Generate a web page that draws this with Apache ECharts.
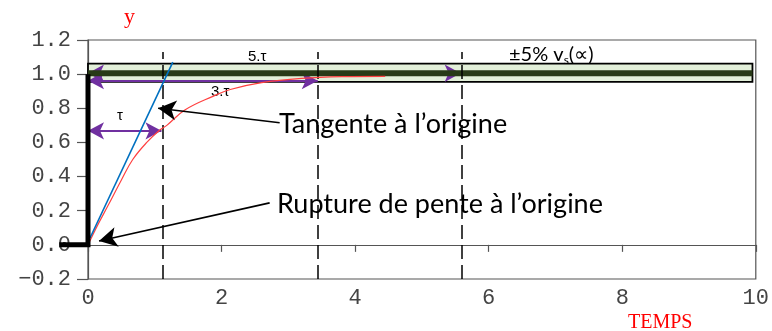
<!DOCTYPE html>
<html><head><meta charset="utf-8">
<script src="https://cdn.jsdelivr.net/npm/echarts@6/dist/echarts.min.js"></script>
<style>html,body{margin:0;padding:0;background:#fff}#c{width:772px;height:331px}</style>
</head><body><div id="c"></div>
<script>
// ---- data ----
const xTickValues = [0, 2, 4, 6, 8, 10];
const yTickValues = [-0.2, 0.0, 0.2, 0.4, 0.6, 0.8, 1.0, 1.2];
const yTickLabels = ['\u22120.2', '0.0', '0.2', '0.4', '0.6', '0.8', '1.0', '1.2'];

// step input (thick black)
const stepT = [-0.43, 0, 0];
const stepY = [0, 0, 1.0];

// response curve (red)
const respT = [0, 0.15, 0.3, 0.5, 0.67, 0.88, 1.08, 1.18, 1.45, 1.87, 2.13, 2.6, 3.2, 3.8, 4.45];
const respY = [0, 0.12, 0.23, 0.38, 0.50, 0.60, 0.674, 0.70, 0.79, 0.87, 0.91, 0.95, 0.975, 0.985, 0.987];

// tangent at origin (blue)
const tanT = [0.03, 1.27];
const tanY = [0.04, 1.07];

// +-5% band
const bandT = [0, 9.95];
const bandLow = 0.955, bandHigh = 1.062, bandMid = 1.005;

// dashed verticals at tau, 3tau, 5tau
const markT = [1.12, 3.44, 5.6];
const markTop = 1.13, markBottom = -0.2;

// purple double arrows: [t start, t end, y]
const purpleArrows = [[0, 1.1, 0.668], [0, 3.44, 0.962], [0, 5.58, 1.005]];

// black pointer arrows: [t start, y start, t end, y end]
const pointerArrows = [[2.87, 0.715, 1.05, 0.80], [2.72, 0.246, 0.165, 0.023]];

const zip = (a, b) => a.map((v, i) => [v, b[i]]);

const chart = echarts.init(document.getElementById('c'), null, {renderer: 'canvas'});
const axisGray = '#555';
const monoFont = '"Liberation Mono","DejaVu Sans Mono",monospace';
const sans = 'Lato, "Liberation Sans", sans-serif';

const texts = [
  {id: 't_y', type: 'text', left: 124, top: 6, style: {text: 'y', fill: '#ff0000', font: '22px "Liberation Serif", serif'}},
  {id: 't_temps', type: 'text', left: 628, top: 313, style: {text: 'TEMPS', fill: '#ff0000', font: '20px "Liberation Serif", serif'}},
  {id: 't_5t', type: 'text', left: 248, top: 49, style: {text: '5.\u03c4', fill: '#000', font: '15px "Liberation Sans", sans-serif'}},
  {id: 't_3t', type: 'text', left: 211, top: 84, style: {text: '3.\u03c4', fill: '#000', font: '15px "Liberation Sans", sans-serif'}},
  {id: 't_t', type: 'text', left: 117, top: 108, style: {text: '\u03c4', fill: '#000', font: '15px "Liberation Sans", sans-serif'}},
  {id: 't_pm', type: 'text', left: 509, top: 45, style: {
    text: '{a|\u00b15% v}{s|s}{a|(\u221d)}',
    rich: {a: {fontFamily: sans, fontSize: 20, color: '#000'},
           s: {fontFamily: sans, fontSize: 12, color: '#000', padding: [10, 0, 0, 0]}}}},
  {id: 't_tan', type: 'text', left: 279, top: 111, style: {text: 'Tangente \u00e0 l\u2019origine', fill: '#000', font: '27px ' + sans}},
  {id: 't_rup', type: 'text', left: 277, top: 191, style: {text: 'Rupture de pente \u00e0 l\u2019origine', fill: '#000', font: '27px ' + sans}}
];

const option = {
  animation: false,
  grid: {left: 88, right: 16, top: 40, bottom: 52, show: true, borderColor: axisGray, borderWidth: 1.2, backgroundColor: 'transparent'},
  xAxis: {
    type: 'value', min: 0, max: 10, interval: 2,
    axisLine: {show: true, lineStyle: {color: axisGray, width: 1.2}},
    axisTick: {show: true, inside: false, length: 7, lineStyle: {color: axisGray, width: 1.2}},
    splitLine: {show: false},
    axisLabel: {color: '#444', fontFamily: monoFont, fontSize: 22, margin: 8,
      formatter: v => xTickValues.includes(v) ? String(v) : ''}
  },
  yAxis: {
    type: 'value', min: -0.2, max: 1.2, interval: 0.2,
    axisLine: {show: true, onZero: false, lineStyle: {color: axisGray, width: 1.2}},
    axisTick: {show: true, inside: false, length: 11, lineStyle: {color: axisGray, width: 1.2}},
    splitLine: {show: false},
    axisLabel: {color: '#444', fontFamily: monoFont, fontSize: 22, margin: 17,
      formatter: v => {
        let i = yTickValues.findIndex(t => Math.abs(t - v) < 1e-6);
        return i >= 0 ? yTickLabels[i] : '';
      }}
  },
  series: [
    { // band
      type: 'line', data: [], z: 1,
      markArea: {silent: true, z: 1, itemStyle: {color: '#e2efd9', borderColor: '#000', borderWidth: 1.8},
        data: [[{coord: [bandT[0], bandLow]}, {coord: [bandT[1], bandHigh]}]]}
    },
    { // purple arrows
      type: 'line', data: [], z: 2,
      markLine: {silent: true, z: 2, symbol: ['arrow', 'arrow'], symbolSize: [13, 16], label: {show: false},
        lineStyle: {color: '#7030a0', width: 1.8, type: 'solid'},
        data: purpleArrows.map(a => [{coord: [a[0], a[2]]}, {coord: [a[1], a[2]]}])}
    },
    { // dark centre line
      type: 'line', data: zip(bandT, [bandMid, bandMid]), z: 3, symbol: 'none',
      lineStyle: {color: '#283a17', width: 6}
    },
    { // dashed verticals
      type: 'line', data: [], z: 4,
      markLine: {silent: true, z: 4, symbol: ['none', 'none'], label: {show: false},
        lineStyle: {color: '#000', width: 1.5, type: [14, 6]},
        data: markT.map(t => [{coord: [t, markBottom]}, {coord: [t, markTop]}])}
    },
    { // response
      type: 'line', data: zip(respT, respY), z: 5, symbol: 'none', smooth: 0.4,
      lineStyle: {color: '#ff4040', width: 1.2}
    },
    { // tangent
      type: 'line', data: zip(tanT, tanY), z: 6, symbol: 'none',
      lineStyle: {color: '#0070c0', width: 1.6}
    },
    { // black pointer arrows
      type: 'line', data: [], z: 8,
      markLine: {silent: true, z: 8, symbol: ['none', 'arrow'], symbolSize: [15, 18], label: {show: false},
        lineStyle: {color: '#000', width: 1.6, type: 'solid'},
        data: pointerArrows.map(a => [{coord: [a[0], a[1]]}, {coord: [a[2], a[3]]}])}
    }
  ],
  graphic: texts
};
chart.setOption(option);

// thick step input, positioned through the chart's own scales
const stepPts = zip(stepT, stepY).map(p => chart.convertToPixel({gridIndex: 0}, p));
chart.setOption({graphic: texts.concat([{
  id: 'step', type: 'polyline', z: 50,
  shape: {points: stepPts},
  style: {stroke: '#000', lineWidth: 5, fill: null, lineJoin: 'miter', lineCap: 'butt'}
}])});
</script>
</body></html>
